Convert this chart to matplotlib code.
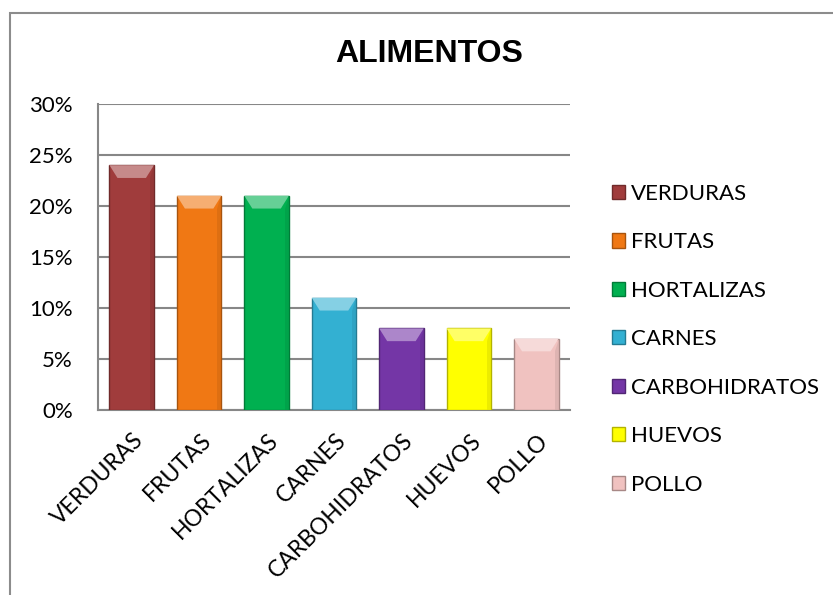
import matplotlib
matplotlib.use("Agg")
import matplotlib.pyplot as plt
import matplotlib.patches as patches
import matplotlib.transforms as mtransforms
from matplotlib.ticker import PercentFormatter
from matplotlib.colors import to_rgb

categorias = ["VERDURAS", "FRUTAS", "HORTALIZAS", "CARNES", "CARBOHIDRATOS", "HUEVOS", "POLLO"]
valores = [0.24, 0.21, 0.21, 0.11, 0.08, 0.08, 0.07]
colores = ["#a03c3c", "#f07814", "#00b050", "#33b0d2", "#7436a6", "#ffff00", "#f0c2c0"]
yticks = [0, 0.05, 0.10, 0.15, 0.20, 0.25, 0.30]

plt.rcParams["font.family"] = ["Lato", "DejaVu Sans"]

fig = plt.figure(figsize=(8.33, 5.95), dpi=100)
# marco del grafico (solo se ve arriba y a la izquierda)
fig.patches.append(patches.Rectangle((10 / 833, -0.1), 1.2, 1.1 - 13 / 595,
                                     transform=fig.transFigure, fill=False,
                                     edgecolor="#8c8c8c", linewidth=1.5))

ax = fig.add_axes([98 / 833, 1 - 410 / 595, 472 / 833, 306 / 595])
x = list(range(len(categorias)))


def oscuro(c, f=0.7):
    r, g, b = to_rgb(c)
    return (r * f, g * f, b * f)


def claro(c, f=0.4):
    r, g, b = to_rgb(c)
    return (r + (1 - r) * f, g + (1 - g) * f, b + (1 - b) * f)


barras = ax.bar(x, valores, width=0.66, color=colores,
                edgecolor=[oscuro(c) for c in colores], linewidth=1.0,
                label=categorias, zorder=3)

# efecto de bisel arriba
for b, c in zip(barras, colores):
    x0, w, h = b.get_x(), b.get_width(), b.get_height()
    d = w * 0.18
    dy = 0.0125
    tri = patches.Polygon([(x0, h), (x0 + w, h), (x0 + w - d, h - dy), (x0 + d, h - dy)],
                          closed=True, facecolor=claro(c), edgecolor="none", zorder=4)
    ax.add_patch(tri)
    lado = patches.Polygon([(x0 + w, h), (x0 + w, 0), (x0 + w - d * 0.5, 0), (x0 + w - d * 0.5, h - dy)],
                           closed=True, facecolor=oscuro(c, 0.88), edgecolor="none", zorder=4, alpha=0.6)
    ax.add_patch(lado)

ax.set_xlim(-0.5, len(categorias) - 0.5)
ax.set_ylim(0, 0.30)
ax.set_yticks(yticks)
ax.yaxis.set_major_formatter(PercentFormatter(1.0, decimals=0))
ax.grid(axis="y", color="#878787", linewidth=1.5, zorder=0)
for s in ["top", "right"]:
    ax.spines[s].set_visible(False)
for s in ["left", "bottom"]:
    ax.spines[s].set_color("#878787")
    ax.spines[s].set_linewidth(1.5)
ax.tick_params(axis="y", length=0, labelsize=16, pad=18)
ax.tick_params(axis="x", length=0, labelsize=16.5, pad=14)
ax.set_xticks(x)
ax.set_xticklabels(categorias, rotation=45, ha="right", rotation_mode="anchor")
desplaza = mtransforms.ScaledTranslation(1 / 100, 0, fig.dpi_scale_trans)
for t in ax.get_xticklabels():
    t.set_transform(t.get_transform() + desplaza)

fig.text(0.515, 1 - 54 / 595, "ALIMENTOS", ha="center", va="center",
         fontsize=23, fontweight="bold", family="Liberation Sans")

fig.legend(loc="upper left", bbox_to_anchor=(603 / 833, 1 - 175 / 595),
           frameon=False, fontsize=16, handlelength=0.6, handleheight=0.6,
           handletextpad=0.25, labelspacing=1.28, borderaxespad=0)

fig.savefig("out.png", dpi=100)
